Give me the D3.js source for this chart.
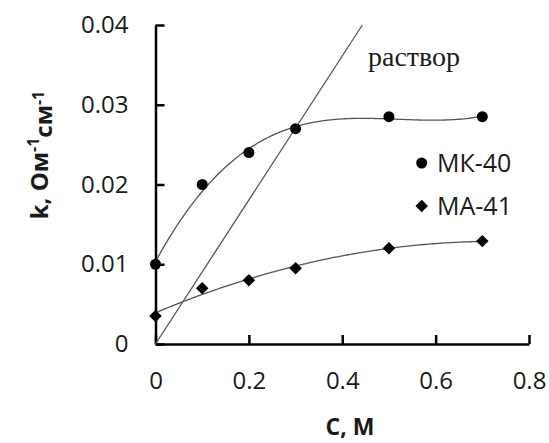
<!DOCTYPE html>
<html>
<head>
<meta charset="utf-8">
<script src="https://cdn.jsdelivr.net/npm/d3@7"></script>
<style>
  body { margin: 0; background: #fff; }
  svg { display: block; }
</style>
</head>
<body>
<script>
// concentrations, M
const concentrations = [0, 0.1, 0.2, 0.3, 0.5, 0.7]
// conductivity, Ohm^-1 cm^-1
const mk40 = [0.010, 0.020, 0.024, 0.027, 0.0285, 0.0285]
const ma41 = [0.0035, 0.007, 0.008, 0.0095, 0.012, 0.0129]
// solution line: two ends
const solutionC = [0, 0.443]
const solutionK = [0, 0.04]

const xTicks = [0, 0.2, 0.4, 0.6, 0.8]
const xTickLabels = ['0', '0.2', '0.4', '0.6', '0.8']
const yTicks = [0, 0.01, 0.02, 0.03, 0.04]
const yTickLabels = ['0', '0.01', '0.02', '0.03', '0.04']

const width = 549, height = 443
const plot = { left: 155.5, right: 529, top: 25, bottom: 344 }
const font = '"Open Sans", sans-serif'
const lineColor = '#555'

const svg = d3.select('body').append('svg')
  .attr('width', width)
  .attr('height', height)

const x = d3.scaleLinear().domain([0, 0.8]).range([plot.left, plot.right])
const y = d3.scaleLinear().domain([0, 0.04]).range([plot.bottom, plot.top])

// least squares polynomial fit, like a spreadsheet trendline
function polyFit(xs, ys, order) {
  let n = order + 1
  let A = [], b = []
  for (let i = 0; i < n; i++) {
    A.push([])
    for (let j = 0; j < n; j++) {
      A[i].push(d3.sum(xs, v => Math.pow(v, i + j)))
    }
    b.push(d3.sum(xs, (v, k) => ys[k] * Math.pow(v, i)))
  }
  for (let i = 0; i < n; i++) {
    let p = i
    for (let r = i + 1; r < n; r++) if (Math.abs(A[r][i]) > Math.abs(A[p][i])) p = r
    ;[A[i], A[p]] = [A[p], A[i]]
    ;[b[i], b[p]] = [b[p], b[i]]
    for (let r = i + 1; r < n; r++) {
      let f = A[r][i] / A[i][i]
      for (let c = i; c < n; c++) A[r][c] -= f * A[i][c]
      b[r] -= f * b[i]
    }
  }
  let coef = new Array(n).fill(0)
  for (let i = n - 1; i >= 0; i--) {
    let s = b[i]
    for (let c = i + 1; c < n; c++) s -= A[i][c] * coef[c]
    coef[i] = s / A[i][i]
  }
  return v => coef.reduce((acc, cf, i) => acc + cf * Math.pow(v, i), 0)
}

function trend(ys, order) {
  let f = polyFit(concentrations, ys, order)
  let x0 = d3.min(concentrations), x1 = d3.max(concentrations)
  return d3.range(0, 141).map(i => {
    let c = x0 + (x1 - x0) * i / 140
    return [c, f(c)]
  })
}

const line = d3.line().x(d => x(d[0])).y(d => y(d[1]))

// axes
const xAxis = svg.append('g')
  .attr('transform', `translate(0,${plot.bottom})`)
  .call(d3.axisBottom(x).tickValues(xTicks).tickFormat((d, i) => xTickLabels[i])
    .tickSizeInner(-9).tickSizeOuter(0).tickPadding(28))

const yAxis = svg.append('g')
  .attr('transform', `translate(${plot.left},0)`)
  .call(d3.axisLeft(y).tickValues(yTicks).tickFormat((d, i) => yTickLabels[i])
    .tickSizeInner(-9).tickSizeOuter(0).tickPadding(27))

for (let ax of [xAxis, yAxis]) {
  ax.select('.domain').attr('stroke', '#000').attr('stroke-width', 2.5)
  ax.selectAll('.tick line').attr('stroke', '#000').attr('stroke-width', 2.5)
  ax.selectAll('.tick text')
    .attr('fill', '#1a1a1a')
    .style('font-family', font)
    .style('font-size', '24px')
}

// solution line
svg.append('path')
  .datum(solutionC.map((c, i) => [c, solutionK[i]]))
  .attr('d', line)
  .attr('fill', 'none')
  .attr('stroke', lineColor)
  .attr('stroke-width', 1.3)

// trendlines
svg.append('path')
  .datum(trend(mk40, 3))
  .attr('d', line)
  .attr('fill', 'none')
  .attr('stroke', lineColor)
  .attr('stroke-width', 1.3)

svg.append('path')
  .datum(trend(ma41, 2))
  .attr('d', line)
  .attr('fill', 'none')
  .attr('stroke', lineColor)
  .attr('stroke-width', 1.3)

// markers
const circleSym = d3.symbol().type(d3.symbolCircle).size(Math.PI * 5.5 * 5.5)
const diamondSym = d3.symbol().type(d3.symbolSquare).size(8.8 * 8.8)

svg.append('g').selectAll('path')
  .data(concentrations.map((c, i) => [c, mk40[i]]))
  .join('path')
  .attr('d', circleSym)
  .attr('transform', d => `translate(${x(d[0])},${y(d[1])})`)
  .attr('fill', '#000')

svg.append('g').selectAll('path')
  .data(concentrations.map((c, i) => [c, ma41[i]]))
  .join('path')
  .attr('d', diamondSym)
  .attr('transform', d => `translate(${x(d[0])},${y(d[1])}) rotate(45)`)
  .attr('fill', '#000')

// legend
const legend = svg.append('g')
legend.append('path')
  .attr('d', circleSym)
  .attr('transform', 'translate(421.7,163)')
  .attr('fill', '#000')
legend.append('path')
  .attr('d', diamondSym)
  .attr('transform', 'translate(421.7,206) rotate(45)')
  .attr('fill', '#000')
legend.selectAll('text')
  .data(['МК-40', 'МА-41'])
  .join('text')
  .attr('x', 437)
  .attr('y', (d, i) => 163 + i * 43)
  .attr('dy', '0.36em')
  .attr('fill', '#1a1a1a')
  .style('font-family', font)
  .style('font-size', '25px')
  .text(d => d)

// solution label
svg.append('text')
  .attr('x', 368)
  .attr('y', 66)
  .attr('fill', '#1a1a1a')
  .style('font-family', '"Liberation Serif", "Times New Roman", serif')
  .style('font-size', '28px')
  .text('раствор')

// axis titles
svg.append('text')
  .attr('x', 350)
  .attr('y', 435)
  .attr('text-anchor', 'middle')
  .attr('fill', '#1a1a1a')
  .style('font-family', font)
  .style('font-size', '23px')
  .style('font-weight', 'bold')
  .text('C, M')

const yTitle = svg.append('text')
  .attr('transform', 'translate(48,155) rotate(-90)')
  .attr('text-anchor', 'middle')
  .attr('fill', '#1a1a1a')
  .style('font-family', font)
  .style('font-size', '24px')
  .style('font-weight', 'bold')
yTitle.append('tspan').text('k, Ом')
yTitle.append('tspan').attr('dy', '-0.55em').style('font-size', '16px').text('-1')
yTitle.append('tspan').attr('dy', '0.55em').text('см')
yTitle.append('tspan').attr('dy', '-0.55em').style('font-size', '16px').text('-1')
</script>
</body>
</html>
